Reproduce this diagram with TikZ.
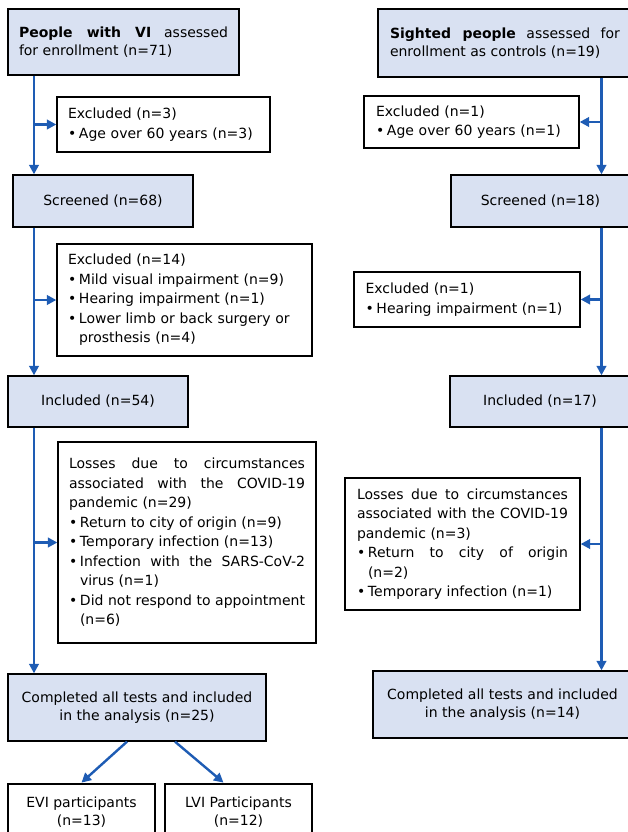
\documentclass[tikz,border=0pt]{standalone}
\usepackage{fontspec}
\setmainfont{DejaVu Sans}
\usetikzlibrary{arrows.meta,calc}
\definecolor{boxblue}{RGB}{217,225,242}
\definecolor{flowblue}{RGB}{30,92,180}
\newcommand\bitm{\par\hangindent=11pt\hangafter=1\noindent\makebox[11pt][l]{•}}
\tikzset{
  bluebox/.style={draw=black, line width=1.3pt, fill=boxblue, inner sep=0pt, align=center,
    font=\fontsize{14}{17.5}\selectfont,
    execute at begin node={\tolerance=10000\hyphenpenalty=10000\exhyphenpenalty=10000}},
  whitebox/.style={draw=black, line width=1.3pt, fill=white, inner sep=0pt,
    font=\fontsize{14}{19.5}\selectfont,
    execute at begin node={\parindent=0pt\tolerance=10000\hyphenpenalty=10000\exhyphenpenalty=10000},
    execute at end node={\par}},
  endbox/.style={draw=black, line width=2.8pt, fill=white, inner sep=0pt, align=center,
    font=\fontsize{14}{18}\selectfont},
  flow/.style={draw=flowblue, line width=2.4pt, -{Triangle[length=9.5pt,width=9.5pt]}},
}
\begin{document}
\begin{tikzpicture}[x=1pt,y=-1pt]
\useasboundingbox (0,0) rectangle (628,832);
\clip (0,0) rectangle (628,832);
\coordinate (vL) at (34,0);
\coordinate (vR) at (601.5,0);
% left column
\node[bluebox, align=justify, minimum width=231pt, minimum height=66pt, text width=209pt] (A) at (123.5,42)
  {\leftskip=10pt {\bfseries People with VI} assessed\linebreak for enrollment (n=71)};
\node[whitebox, align=left, minimum width=213pt, minimum height=55pt, text width=191pt] (Excl1L) at (163.5,124.5)
  {Excluded (n=3)\bitm Age over 60 years (n=3)};
\node[bluebox, minimum width=180pt, minimum height=52pt] (ScreenL) at (103,201) {Screened (n=68)};
\node[whitebox, align=left, minimum width=255pt, minimum height=112pt, text width=233pt] (Excl2L) at (184.5,300)
  {Excluded (n=14)\bitm Mild visual impairment (n=9)\bitm Hearing impairment (n=1)\bitm Lower limb or back surgery or\linebreak prosthesis (n=4)\par};
\node[bluebox, minimum width=180pt, minimum height=51pt] (InclL) at (98,401.5) {Included (n=54)};
\node[whitebox, align=justify, minimum width=258pt, minimum height=201pt, text width=236pt] (LossL) at (187,542.5)
  {Losses due to circumstances\linebreak associated with the COVID-19\linebreak pandemic (n=29)\bitm Return to city of origin (n=9)\bitm Temporary infection (n=13)\bitm Infection with the SARS-CoV-2\linebreak virus (n=1)\bitm Did not respond to appointment\linebreak (n=6)\par};
\node[bluebox, minimum width=258pt, minimum height=67pt] (ComplL) at (137,707.5)
  {Completed all tests and included\\in the analysis (n=25)};
\node[endbox, minimum width=147pt, minimum height=56pt] (EVI) at (81.5,812) {EVI participants\\(n=13)};
\node[endbox, minimum width=147pt, minimum height=56pt] (LVI) at (238.5,812) {LVI Participants\\(n=12)};
% right column
\node[bluebox, align=justify, minimum width=254pt, minimum height=68pt, text width=230pt] (B) at (505,43)
  {{\bfseries Sighted people} assessed for\linebreak enrollment as controls (n=19)};
\node[whitebox, align=left, minimum width=215pt, minimum height=52pt, text width=191pt] (Excl1R) at (471.5,122)
  {Excluded (n=1)\bitm Age over 60 years (n=1)};
\node[bluebox, minimum width=179pt, minimum height=52pt] (ScreenR) at (540.5,201) {Screened (n=18)};
\node[whitebox, align=left, minimum width=226pt, minimum height=55pt, text width=203pt] (Excl2R) at (467,299.5)
  {Excluded (n=1)\bitm Hearing impairment (n=1)};
\node[bluebox, minimum width=180pt, minimum height=51pt] (InclR) at (540,401.5) {Included (n=17)};
\node[whitebox, align=justify, minimum width=235pt, minimum height=132pt, text width=211pt] (LossR) at (462.5,544)
  {Losses due to circumstances\linebreak associated with the COVID-19\linebreak pandemic (n=3)\bitm Return to city of origin\linebreak (n=2)\bitm Temporary infection (n=1)\par};
\node[bluebox, minimum width=259pt, minimum height=67pt] (ComplR) at (502.5,704.5)
  {Completed all tests and included\\in the analysis (n=14)};
% connectors left
\draw[flow] (A.south -| vL) -- (ScreenL.north -| vL);
\draw[flow] (ScreenL.south -| vL) -- (InclL.north -| vL);
\draw[flow] (InclL.south -| vL) -- (ComplL.north -| vL);
\draw[flow] (Excl1L.west -| vL) -- (Excl1L.west);
\draw[flow] (Excl2L.west -| vL) -- (Excl2L.west);
\draw[flow] (LossL.west -| vL) -- (LossL.west);
\draw[flow] ($(ComplL.south)+(-10,0)$) -- (EVI.north);
\draw[flow] ($(ComplL.south)+(38,0)$) -- ($(LVI.north)+(-15,0)$);
% connectors right
\draw[flow] (B.south -| vR) -- (ScreenR.north -| vR);
\draw[flow] (ScreenR.south -| vR) -- (InclR.north -| vR);
\draw[flow] (InclR.south -| vR) -- (ComplR.north -| vR);
\draw[flow] (Excl1R.east -| vR) -- (Excl1R.east);
\draw[flow] (Excl2R.east -| vR) -- (Excl2R.east);
\draw[flow] (LossR.east -| vR) -- (LossR.east);
\end{tikzpicture}
\end{document}
